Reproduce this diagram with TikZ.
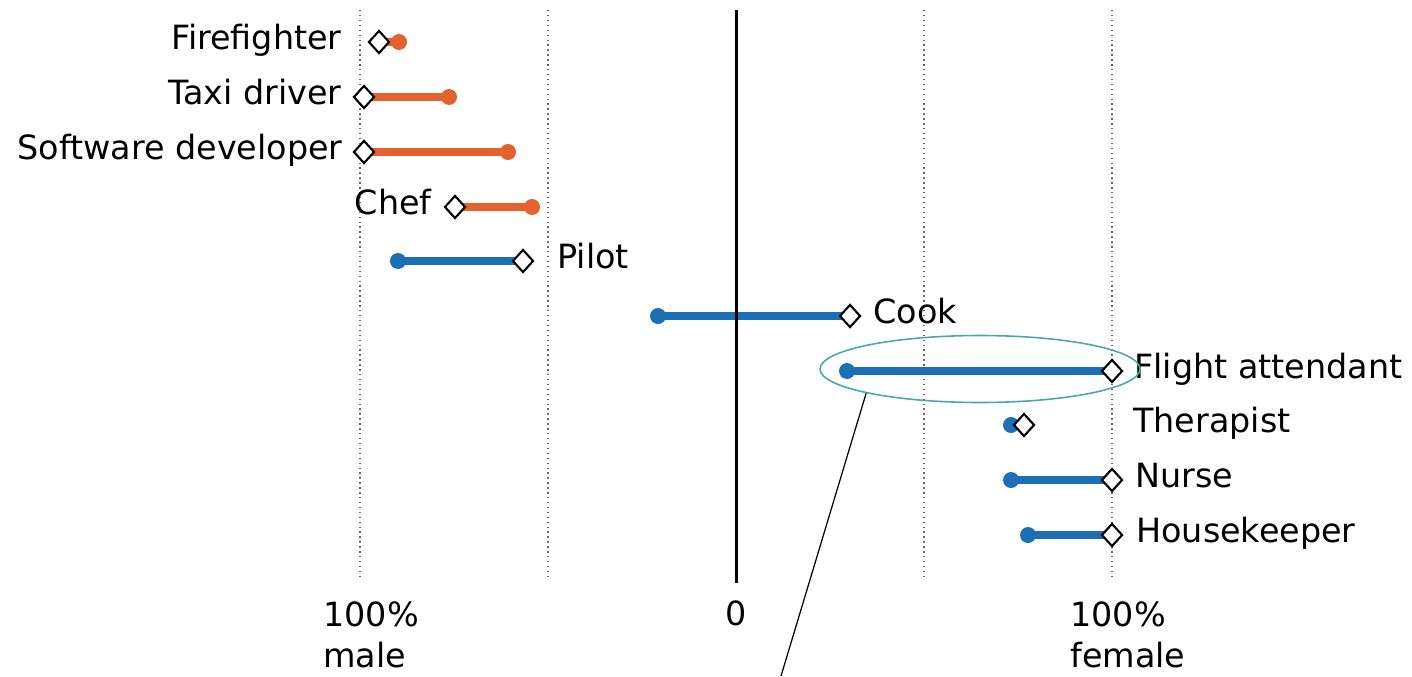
\documentclass[tikz,border=0pt]{standalone}
\usepackage{fontspec}
\setmainfont{DejaVu Sans}
\usetikzlibrary{shapes.geometric,backgrounds}
\definecolor{menc}{HTML}{E4632D}
\definecolor{womc}{HTML}{1A6FB5}
\definecolor{ringc}{HTML}{48A9A6}
\begin{document}
\begin{tikzpicture}[x=0.02cm,y=-0.02cm,
dotm/.style ={circle, fill=menc, inner sep=0pt, minimum size=0.32cm},
dotw/.style ={circle, fill=womc, inner sep=0pt, minimum size=0.32cm},
gap/.style ={diamond, draw=black, fill=white, line width=1.2pt,
  inner sep=0pt, minimum width=0.42cm, minimum height=0.46cm},
lab/.style ={inner sep=0pt, font=\fontsize{19}{23.5}\selectfont},
barm/.style ={menc, line width=4pt},
barw/.style ={womc, line width=4pt},
guide/.style ={black!60, dotted, line width=0.8pt}
]
\useasboundingbox (0,0) rectangle (1412,676);
\node (m1) at (399,42) [dotm] {};
\node (d1) at (379,42) [gap] {};
\node (l1) at (342,49) [lab, anchor=base east] {Firefighter};
\node (m2) at (449,97) [dotm] {};
\node (d2) at (364,97) [gap] {};
\node (l2) at (342,104) [lab, anchor=base east] {Taxi driver};
\node (m3) at (508,152) [dotm] {};
\node (d3) at (364,152) [gap] {};
\node (l3) at (343,159) [lab, anchor=base east] {Software developer};
\node (m4) at (532,207) [dotm] {};
\node (d4) at (455,207) [gap] {};
\node (l4) at (432,214) [lab, anchor=base east] {Chef};
\node (m5) at (398,261) [dotw] {};
\node (d5) at (523,261) [gap] {};
\node (l5) at (557,268) [lab, anchor=base west] {Pilot};
\node (m6) at (658,316) [dotw] {};
\node (d6) at (850,316) [gap] {};
\node (l6) at (873,323) [lab, anchor=base west] {Cook};
\node (m7) at (847,371) [dotw] {};
\node (d7) at (1112,371) [gap] {};
\node (l7) at (1134,378) [lab, anchor=base west] {Flight attendant};
\node (m8) at (1011,425) [dotw] {};
\node (d8) at (1024,425) [gap] {};
\node (l8) at (1133,432) [lab, anchor=base west] {Therapist};
\node (m9) at (1011,480) [dotw] {};
\node (d9) at (1112,480) [gap] {};
\node (l9) at (1135,487) [lab, anchor=base west] {Nurse};
\node (m10) at (1028,535) [dotw] {};
\node (d10) at (1112,535) [gap] {};
\node (l10) at (1136,542) [lab, anchor=base west] {Housekeeper};
\node (ax1) at (323,601) [lab, anchor=north west, align=left] {100\%\\male};
\node (ax2) at (736,625) [lab, anchor=base] {0};
\node (ax3) at (1070,601) [lab, anchor=north west, align=left] {100\%\\female};
\node (ring) at (980,369) [ellipse, draw=ringc, line width=0.9pt,
  minimum width=6.4cm, minimum height=1.34cm] {};
\coordinate (tail) at (781,676);
\draw[line width=0.7pt] (ring.192) -- (tail);
\begin{scope}[on background layer]
\draw[guide] (360,10) -- (360,580);
\draw[guide] (548,10) -- (548,580);
\draw[guide] (924,10) -- (924,580);
\draw[guide] (1112,10) -- (1112,580);
\draw[barm] (d1.center) -- (m1.center);
\draw[barm] (d2.center) -- (m2.center);
\draw[barm] (d3.center) -- (m3.center);
\draw[barm] (d4.center) -- (m4.center);
\draw[barw] (m5.center) -- (d5.center);
\draw[barw] (m6.center) -- (d6.center);
\draw[barw] (m7.center) -- (d7.center);
\draw[barw] (m8.center) -- (d8.center);
\draw[barw] (m9.center) -- (d9.center);
\draw[barw] (m10.center) -- (d10.center);
\draw[line width=1.7pt] (736,10) -- (736,583);
\end{scope}
\end{tikzpicture}
\end{document}
